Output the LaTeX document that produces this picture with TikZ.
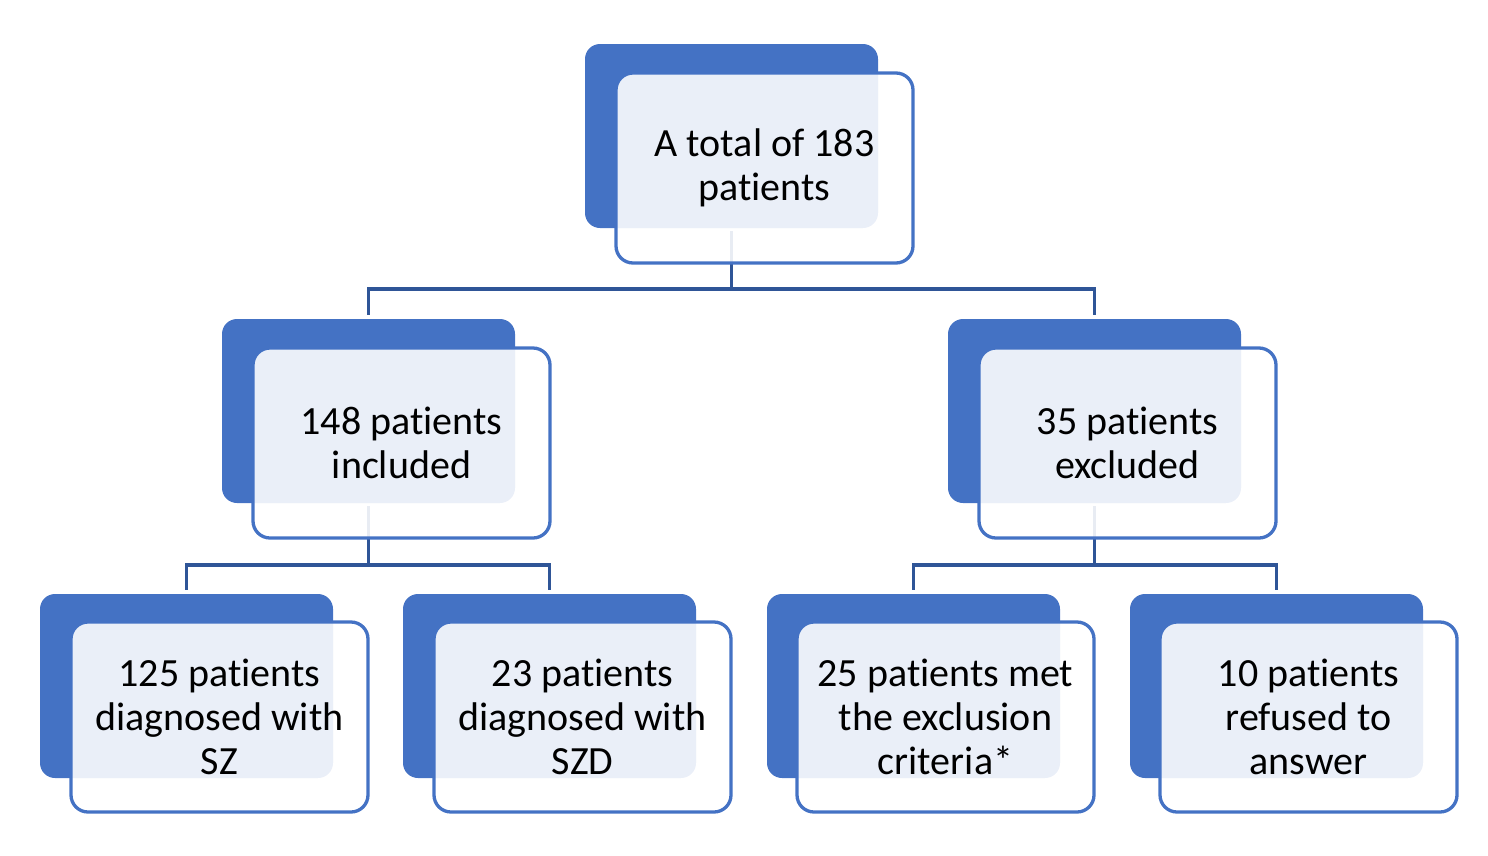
\documentclass[tikz,border=0pt]{standalone}
\usepackage{fontspec}
\setmainfont[Ligatures={NoCommon}]{Carlito}
\definecolor{dkblue}{HTML}{4472C4}
\definecolor{lnblue}{HTML}{2F5597}
\tikzset{
  backbox/.style={fill=dkblue, draw=none, rounded corners=15pt, minimum width=293pt, minimum height=184pt, inner sep=0pt},
  frontbox/.style={fill=white, fill opacity=0.89, text opacity=1, draw=dkblue, draw opacity=1, line width=3.3pt, rounded corners=17pt,
    minimum width=297pt, minimum height=190pt, inner sep=0pt, align=center, font=\fontsize{40}{44}\selectfont, text=black},
  conn/.style={draw=lnblue, line width=3.5pt}
}
\begin{document}
\begin{tikzpicture}[x=1pt,y=-1pt]
\useasboundingbox (0,0) rectangle (1488,855);
% back boxes
\node[backbox] (tB)  at (731.5,136) {};
\node[backbox] (mlB) at (368.5,411) {};
\node[backbox] (mrB) at (1094.5,411) {};
\node[backbox] (b1B) at (186.5,686) {};
\node[backbox] (b2B) at (549.5,686) {};
\node[backbox] (b3B) at (913.5,686) {};
\node[backbox] (b4B) at (1276.5,686) {};
% connectors
\coordinate (j1) at (731.5,289);
\coordinate (j2) at (368.5,565);
\coordinate (j3) at (1094.5,565);
\draw[conn] ([yshift=-3pt]tB.south) -- (j1);
\draw[conn] (j1) -| ([yshift=4pt]mlB.north);
\draw[conn] (j1) -| ([yshift=4pt]mrB.north);
\draw[conn] ([yshift=-3pt]mlB.south) -- (j2);
\draw[conn] (j2) -| ([yshift=4pt]b1B.north);
\draw[conn] (j2) -| ([yshift=4pt]b2B.north);
\draw[conn] ([yshift=-3pt]mrB.south) -- (j3);
\draw[conn] (j3) -| ([yshift=4pt]b3B.north);
\draw[conn] (j3) -| ([yshift=4pt]b4B.north);
% front boxes with labels
\node[frontbox] (tF)  at (764.5,168) {A total of 183\\patients};
\node[frontbox] (mlF) at (401.5,443) {148 patients\\included};
\node[frontbox] (mrF) at (1127.5,443) {35 patients\\excluded};
\node[frontbox] (b1F) at (219.5,717) {125 patients\\diagnosed with\\SZ};
\node[frontbox] (b2F) at (582.5,717) {23 patients\\diagnosed with\\SZD};
\node[frontbox] (b3F) at (945.5,717) {25 patients met\\the exclusion\\criteria*};
\node[frontbox] (b4F) at (1308.5,717) {10 patients\\refused to\\answer};
\end{tikzpicture}
\end{document}
